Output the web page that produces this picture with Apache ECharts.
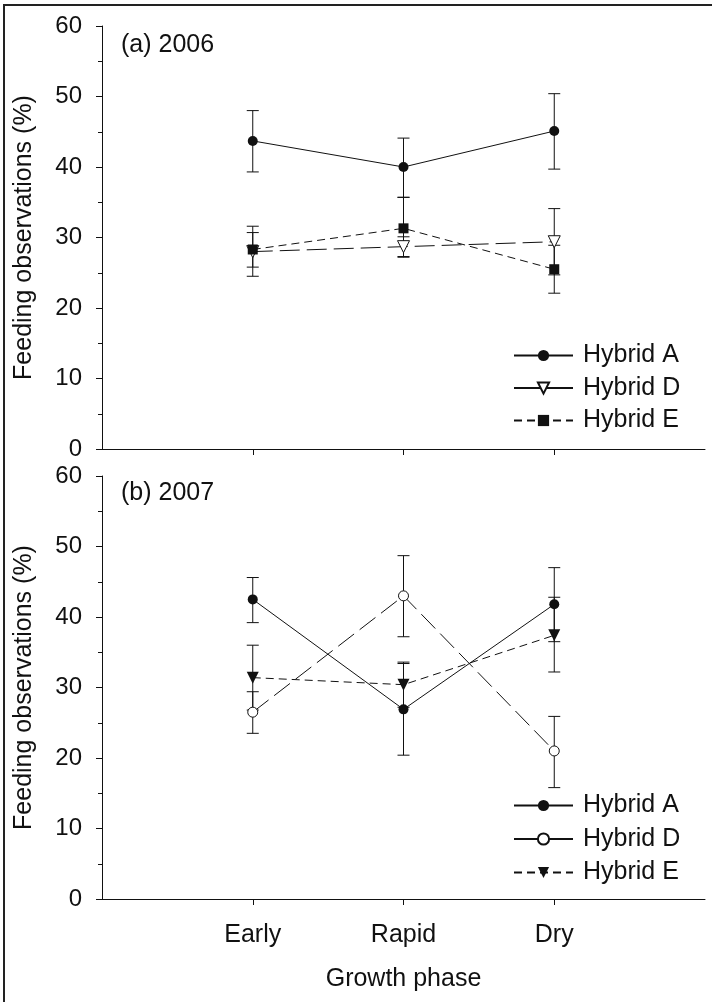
<!DOCTYPE html>
<html>
<head>
<meta charset="utf-8">
<script src="https://cdn.jsdelivr.net/npm/echarts@6/dist/echarts.min.js"></script>
<style>
  html, body { margin: 0; padding: 0; background: #fff; }
  #chart { width: 712px; height: 1002px; }
</style>
</head>
<body>
<div id="chart"></div>
<script>
// growth phases, placed at x = 1, 2, 3
const phases = ['Early', 'Rapid', 'Dry'];
const xPos = [1, 2, 3];

// (a) 2006
const a06 = [43.7, 40.0, 45.1];
const a06Hi = [48.0, 44.1, 50.4];
const a06Lo = [39.3, 35.7, 39.7];
const d06 = [28.0, 28.7, 29.4];
const d06Hi = [30.7, 30.1, 34.1];
const d06Lo = [25.8, 27.3, 24.7];
const e06 = [28.3, 31.3, 25.5];
const e06Hi = [31.6, 35.7, 28.9];
const e06Lo = [24.5, 27.2, 22.1];

// (b) 2007
const a07 = [42.5, 26.9, 41.8];
const a07Hi = [45.6, 33.4, 47.0];
const a07Lo = [39.2, 20.4, 36.5];
const d07 = [26.5, 43.0, 21.0];
const d07Hi = [29.4, 48.7, 25.9];
const d07Lo = [23.5, 37.2, 15.8];
const e07 = [31.4, 30.4, 37.4];
const e07Hi = [36.0, 33.6, 42.8];
const e07Lo = [26.8, 27.2, 32.2];

const yTicks = [0, 10, 20, 30, 40, 50, 60];

// legend ids -> shown text
const legendText = {
  A06: 'Hybrid A', D06: 'Hybrid D', E06: 'Hybrid E',
  A07: 'Hybrid A', D07: 'Hybrid D', E07: 'Hybrid E'
};

const FONT = 'Liberation Sans, Arial, sans-serif';
const INK = '#111';

function points(vals) {
  return xPos.map((x, i) => [x, vals[i]]);
}
function bars(lo, hi) {
  return xPos.map((x, i) => [x, lo[i], hi[i]]);
}

function errorBar(params, api) {
  const x = api.value(0);
  const pLo = api.coord([x, api.value(1)]);
  const pHi = api.coord([x, api.value(2)]);
  const hw = 6;
  const st = { stroke: INK, lineWidth: 1 };
  return {
    type: 'group',
    children: [
      { type: 'line', shape: { x1: pHi[0], y1: pHi[1], x2: pLo[0], y2: pLo[1] }, style: st },
      { type: 'line', shape: { x1: pHi[0] - hw, y1: pHi[1], x2: pHi[0] + hw, y2: pHi[1] }, style: st },
      { type: 'line', shape: { x1: pLo[0] - hw, y1: pLo[1], x2: pLo[0] + hw, y2: pLo[1] }, style: st }
    ]
  };
}

function errSeries(idx, lo, hi) {
  return {
    type: 'custom',
    xAxisIndex: idx, yAxisIndex: idx,
    renderItem: errorBar,
    encode: { x: 0, y: [1, 2] },
    data: bars(lo, hi),
    z: 1,
    silent: true
  };
}

function lineSeries(idx, name, vals, symbol, open, dash, rotate) {
  return {
    type: 'line',
    name: name,
    xAxisIndex: idx, yAxisIndex: idx,
    data: points(vals),
    symbol: symbol,
    symbolSize: symbol === 'triangle' ? 12 : 10,
    symbolRotate: rotate || 0,
    showAllSymbol: true,
    lineStyle: { color: INK, width: 1, type: dash },
    itemStyle: open
      ? { color: '#fff', borderColor: INK, borderWidth: 1 }
      : { color: INK, borderWidth: 0 },
    emphasis: { disabled: true },
    z: 3
  };
}

function xAxis(idx, showLabels) {
  return {
    type: 'value', gridIndex: idx, min: 0, max: 4, interval: 1,
    axisLine: { lineStyle: { color: INK, width: 1 } },
    axisTick: { show: true, inside: false, length: 6, customValues: xPos, lineStyle: { color: INK } },
    axisLabel: {
      show: showLabels, customValues: xPos, margin: 24,
      formatter: v => phases[xPos.indexOf(v)] || '',
      color: INK, fontSize: 25, fontFamily: FONT
    },
    splitLine: { show: false },
    name: showLabels ? 'Growth phase' : '',
    nameLocation: 'middle', nameGap: 68,
    nameTextStyle: { color: INK, fontSize: 25, fontFamily: FONT }
  };
}

function yAxis(idx) {
  return {
    type: 'value', gridIndex: idx, min: 0, max: 60, interval: 10,
    axisLine: { show: true, lineStyle: { color: INK, width: 1 } },
    axisTick: { show: true, inside: false, length: 6, lineStyle: { color: INK } },
    minorTick: { show: true, splitNumber: 2, length: 4, lineStyle: { color: INK } },
    axisLabel: {
      margin: 20, color: INK, fontSize: 24, fontFamily: FONT,
      formatter: v => (yTicks.indexOf(v) >= 0 ? String(v) : '')
    },
    splitLine: { show: false },
    name: 'Feeding observations (%)',
    nameLocation: 'middle', nameGap: 65,
    nameTextStyle: { color: INK, fontSize: 25, fontFamily: FONT }
  };
}

function legend(top, names, gap) {
  return {
    orient: 'vertical', left: 508, top: top,
    data: names.map((n, i) => i === 1
      ? { name: n, lineStyle: { type: 'solid' } }
      : { name: n }),
    itemWidth: 59, itemHeight: 14, itemGap: gap,
    selectedMode: false,
    formatter: n => legendText[n],
    textStyle: { color: INK, fontSize: 25, fontFamily: FONT, lineHeight: 25, padding: [0, 0, 0, 5] }
  };
}

const chart = echarts.init(document.getElementById('chart'), null, { renderer: 'canvas' });

const option = {
  backgroundColor: '#fff',
  animation: false,
  title: [
    { text: '(a) 2006', left: 121, top: 33, padding: 0,
      textStyle: { fontWeight: 'normal', fontSize: 25, color: INK, fontFamily: FONT } },
    { text: '(b) 2007', left: 121, top: 481, padding: 0,
      textStyle: { fontWeight: 'normal', fontSize: 25, color: INK, fontFamily: FONT } }
  ],
  grid: [
    { left: 102, top: 26, width: 603, height: 423 },
    { left: 102, top: 476, width: 603, height: 423 }
  ],
  xAxis: [xAxis(0, false), xAxis(1, true)],
  yAxis: [yAxis(0), yAxis(1)],
  legend: [
    legend(338, ['A06', 'D06', 'E06'], 7.5),
    legend(788, ['A07', 'D07', 'E07'], 8.5)
  ],
  series: [
    errSeries(0, a06Lo, a06Hi),
    errSeries(0, d06Lo, d06Hi),
    errSeries(0, e06Lo, e06Hi),
    lineSeries(0, 'A06', a06, 'circle', false, 'solid'),
    lineSeries(0, 'D06', d06, 'triangle', true, [20, 7], 180),
    lineSeries(0, 'E06', e06, 'rect', false, [8, 5]),
    errSeries(1, a07Lo, a07Hi),
    errSeries(1, d07Lo, d07Hi),
    errSeries(1, e07Lo, e07Hi),
    lineSeries(1, 'A07', a07, 'circle', false, 'solid'),
    lineSeries(1, 'D07', d07, 'circle', true, [20, 7]),
    lineSeries(1, 'E07', e07, 'triangle', false, [8, 5], 180)
  ],
  graphic: [
    { type: 'line', shape: { x1: 3, y1: 5, x2: 712, y2: 5 }, style: { stroke: '#222', lineWidth: 2 } },
    { type: 'line', shape: { x1: 4, y1: 4, x2: 4, y2: 1002 }, style: { stroke: '#222', lineWidth: 2 } }
  ]
};

chart.setOption(option);
</script>
</body>
</html>
